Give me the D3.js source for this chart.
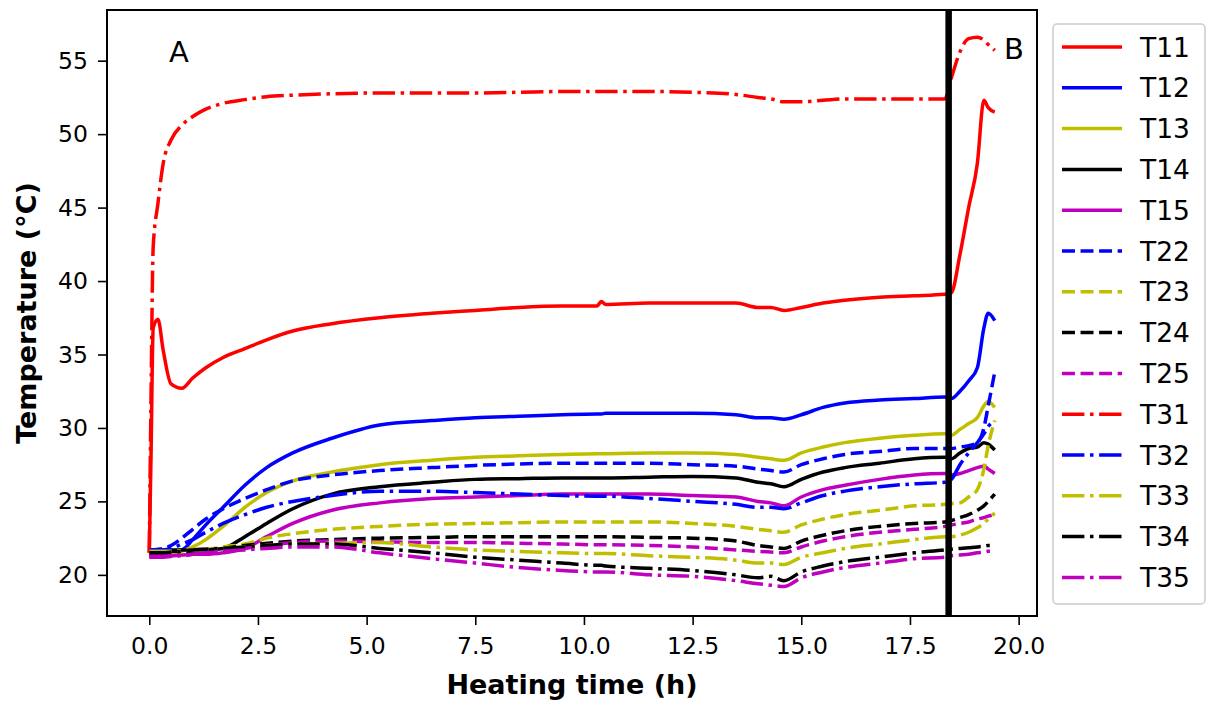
<!DOCTYPE html>
<html>
<head>
<meta charset="utf-8">
<script src="https://cdn.jsdelivr.net/npm/d3@7"></script>
<style>
  html, body { margin: 0; padding: 0; background: #fff; }
  svg { display: block; }
  text { font-family: "DejaVu Sans", sans-serif; fill: #000; }
</style>
</head>
<body>
<svg id="chart" width="1209" height="704"></svg>
<script>
// ---------------- DATA ----------------
const time = [0, 0.04, 0.09, 0.2, 0.32, 0.5, 0.75,
              1.0, 1.3, 1.7, 2.2, 2.7, 3.3, 4.2,
              5.3, 6.5, 7.5, 8.5, 9.5, 10.3, 10.4,
              10.5, 11.5, 12.5, 13.5, 14.0, 14.3, 14.6,
              15.0, 15.5, 16.0, 16.8, 17.6, 18.3, 18.45,
              18.65, 18.85, 19.05, 19.2, 19.3, 19.45];

const seriesNames = ["T11","T12","T13","T14","T15","T22","T23","T24","T25","T31","T32","T33","T34","T35"];

const T11 = [21.5, 28.0, 36.8, 37.4, 35.3, 33.0, 32.7,
             33.4, 34.1, 34.8, 35.4, 36.0, 36.6, 37.1,
             37.5, 37.8, 38.0, 38.2, 38.3, 38.3, 38.6,
             38.4, 38.5, 38.5, 38.5, 38.2, 38.2, 38.0,
             38.2, 38.5, 38.7, 38.9, 39.0, 39.1, 39.2,
             41.8, 45.0, 48.0, 52.3, 51.8, 51.5];
const T12 = [21.6, 21.6, 21.6, 21.6, 21.6, 21.6, 21.7,
             22.4, 23.4, 24.6, 26.1, 27.3, 28.3, 29.3,
             30.2, 30.5, 30.7, 30.8, 30.9, 30.95, 30.95,
             31.0, 31.0, 31.0, 30.9, 30.7, 30.7, 30.6,
             30.9, 31.4, 31.7, 31.9, 32.0, 32.1, 32.0,
             32.5, 33.2, 34.1, 36.8, 37.8, 37.3];
const T13 = [21.5, 21.5, 21.5, 21.5, 21.5, 21.5, 21.6,
             21.9, 22.4, 23.3, 24.6, 25.6, 26.4, 27.0,
             27.5, 27.8, 28.0, 28.1, 28.2, 28.25, 28.25,
             28.25, 28.3, 28.3, 28.2, 28.0, 27.9, 27.8,
             28.3, 28.7, 29.0, 29.3, 29.5, 29.6, 29.5,
             29.9, 30.3, 30.7, 31.5, 31.8, 31.4];
const T14 = [21.7, 21.7, 21.7, 21.7, 21.7, 21.7, 21.7,
             21.7, 21.7, 21.8, 22.6, 23.5, 24.5, 25.5,
             26.0, 26.3, 26.5, 26.55, 26.6, 26.6, 26.6,
             26.6, 26.65, 26.7, 26.6, 26.3, 26.2, 26.0,
             26.5, 27.0, 27.3, 27.6, 27.9, 28.0, 27.9,
             28.3, 28.6, 28.7, 29.0, 28.9, 28.5];
const T15 = [21.3, 21.3, 21.3, 21.3, 21.3, 21.3, 21.35,
             21.4, 21.4, 21.5, 21.8, 22.6, 23.5, 24.4,
             24.9, 25.2, 25.3, 25.4, 25.5, 25.5, 25.5,
             25.5, 25.5, 25.4, 25.3, 25.0, 24.9, 24.7,
             25.3, 25.8, 26.1, 26.5, 26.8, 26.9, 26.8,
             26.9, 27.1, 27.3, 27.4, 27.2, 26.9];
const T22 = [21.7, 21.7, 21.7, 21.75, 21.8, 22.0, 22.5,
             23.1, 23.8, 24.5, 25.2, 25.8, 26.4, 26.8,
             27.1, 27.3, 27.45, 27.55, 27.6, 27.6, 27.6,
             27.6, 27.6, 27.5, 27.4, 27.2, 27.1, 27.0,
             27.5, 27.9, 28.2, 28.4, 28.6, 28.6, 28.6,
             28.7, 28.8, 29.0, 30.0, 31.5, 33.8];
const T23 = [21.5, 21.5, 21.5, 21.5, 21.5, 21.5, 21.5,
             21.6, 21.7, 21.9, 22.1, 22.5, 22.8, 23.1,
             23.3, 23.45, 23.5, 23.55, 23.6, 23.6, 23.6,
             23.6, 23.6, 23.5, 23.3, 23.1, 23.0, 22.9,
             23.4, 23.8, 24.1, 24.4, 24.7, 24.8, 24.85,
             24.9, 25.3, 25.8, 27.2, 28.8, 30.5];
const T24 = [21.6, 21.6, 21.6, 21.6, 21.6, 21.6, 21.6,
             21.6, 21.7, 21.8, 22.0, 22.15, 22.3, 22.4,
             22.5, 22.55, 22.6, 22.6, 22.6, 22.6, 22.6,
             22.6, 22.55, 22.5, 22.3, 22.0, 21.9, 21.8,
             22.3, 22.7, 23.0, 23.3, 23.5, 23.6, 23.7,
             23.9, 24.1, 24.4, 24.7, 25.0, 25.5];
const T25 = [21.3, 21.3, 21.3, 21.3, 21.3, 21.3, 21.35,
             21.4, 21.5, 21.6, 21.8, 22.0, 22.2, 22.3,
             22.25, 22.2, 22.2, 22.15, 22.1, 22.05, 22.05,
             22.05, 22.0, 21.9, 21.7, 21.6, 21.55, 21.5,
             21.9, 22.3, 22.6, 22.9, 23.1, 23.3, 23.4,
             23.5, 23.6, 23.8, 23.9, 24.0, 24.1];
const T31 = [21.5, 32.0, 42.3, 45.3, 48.0, 49.6, 50.6,
             51.2, 51.7, 52.1, 52.35, 52.55, 52.65, 52.75,
             52.8, 52.8, 52.8, 52.85, 52.9, 52.9, 52.9,
             52.9, 52.9, 52.85, 52.7, 52.5, 52.4, 52.2,
             52.2, 52.3, 52.4, 52.4, 52.4, 52.4, 53.8,
             55.6, 56.5, 56.6, 56.4, 56.1, 55.7];
const T32 = [21.7, 21.7, 21.7, 21.7, 21.7, 21.8, 22.1,
             22.4, 22.9, 23.5, 24.1, 24.6, 25.0, 25.4,
             25.7, 25.7, 25.6, 25.5, 25.4, 25.35, 25.35,
             25.35, 25.2, 25.0, 24.8, 24.6, 24.6, 24.5,
             24.9, 25.4, 25.7, 26.0, 26.2, 26.3, 26.5,
             27.5, 28.3, 29.0, 29.6, 30.1, 30.5];
const T33 = [21.6, 21.6, 21.6, 21.6, 21.6, 21.6, 21.65,
             21.7, 21.75, 21.8, 21.9, 22.0, 22.1, 22.15,
             22.2, 21.9, 21.7, 21.6, 21.5, 21.45, 21.45,
             21.45, 21.3, 21.2, 21.0, 20.8, 20.8, 20.7,
             21.2, 21.5, 21.8, 22.1, 22.4, 22.6, 22.6,
             22.7, 22.9, 23.2, 23.5, 23.8, 24.2];
const T34 = [21.5, 21.5, 21.5, 21.5, 21.5, 21.55, 21.6,
             21.7, 21.75, 21.8, 21.9, 22.0, 22.1, 22.1,
             21.8, 21.5, 21.2, 21.0, 20.8, 20.65, 20.65,
             20.6, 20.45, 20.3, 20.0, 19.8, 19.9, 19.6,
             20.2, 20.6, 20.9, 21.2, 21.5, 21.7, 21.75,
             21.8, 21.85, 21.9, 21.95, 22.0, 22.0];
const T35 = [21.2, 21.2, 21.2, 21.2, 21.2, 21.25, 21.3,
             21.4, 21.5, 21.6, 21.7, 21.8, 21.9, 21.9,
             21.5, 21.1, 20.8, 20.5, 20.3, 20.2, 20.2,
             20.2, 20.0, 19.9, 19.6, 19.4, 19.3, 19.2,
             19.8, 20.2, 20.5, 20.8, 21.1, 21.2, 21.3,
             21.35, 21.4, 21.5, 21.55, 21.6, 21.6];

const seriesValues = [T11, T12, T13, T14, T15, T22, T23, T24, T25, T31, T32, T33, T34, T35];
const seriesColors = ["#ff0000","#0000ff","#bfbf00","#000000","#bf00bf",
                      "#0000ff","#bfbf00","#000000","#bf00bf",
                      "#ff0000","#0000ff","#bfbf00","#000000","#bf00bf"];
const seriesStyles = ["solid","solid","solid","solid","solid",
                      "dashed","dashed","dashed","dashed",
                      "dashdot","dashdot","dashdot","dashdot","dashdot"];

const xTicks = [0, 2.5, 5, 7.5, 10, 12.5, 15, 17.5, 20];
const yTicks = [20, 25, 30, 35, 40, 45, 50, 55];
const yLimits = [17.2, 58.45];
const markerTime = 18.39;   // vertical black line separating A and B
const regionLabels = ["A", "B"];

// ---------------- LAYOUT ----------------
const svg = d3.select("#chart");
const plot = {left: 107, right: 1037, top: 10, bottom: 616};
const lw = 3.5;
const dashes = {solid: null,
                dashed: [3.7*lw, 1.6*lw].join(","),
                dashdot: [6.4*lw, 1.6*lw, 1*lw, 1.6*lw].join(",")};

const tMin = d3.min(time), tMax = d3.max(time);
const tPad = (tMax - tMin) * 0.05;
const x = d3.scaleLinear().domain([tMin - tPad, tMax + tPad]).range([plot.left, plot.right]);
const y = d3.scaleLinear().domain(yLimits).range([plot.bottom, plot.top]);

svg.append("clipPath").attr("id", "clip")
  .append("rect").attr("x", plot.left).attr("y", plot.top)
  .attr("width", plot.right - plot.left).attr("height", plot.bottom - plot.top);

const line = d3.line()
  .x(d => x(d[0])).y(d => y(d[1]))
  .curve(d3.curveMonotoneX);

const gLines = svg.append("g").attr("clip-path", "url(#clip)");
seriesValues.forEach((vals, i) => {
  const pts = time.map((t, k) => [t, vals[k]]);
  gLines.append("path")
    .datum(pts)
    .attr("d", line)
    .attr("fill", "none")
    .attr("stroke", seriesColors[i])
    .attr("stroke-width", lw)
    .attr("stroke-linejoin", "round")
    .attr("stroke-dasharray", dashes[seriesStyles[i]]);
});

// vertical separator
svg.append("line")
  .attr("x1", x(markerTime)).attr("x2", x(markerTime))
  .attr("y1", plot.top).attr("y2", plot.bottom)
  .attr("stroke", "#000").attr("stroke-width", 6.5);

// region labels
svg.append("text").attr("x", 169).attr("y", 62).attr("font-size", 29).text(regionLabels[0]);
svg.append("text").attr("x", 1004).attr("y", 59).attr("font-size", 29).text(regionLabels[1]);

// axes
const xAxis = svg.append("g")
  .attr("transform", `translate(0,${plot.bottom})`)
  .call(d3.axisBottom(x).tickValues(xTicks).tickFormat(d3.format(".1f")).tickSize(9).tickPadding(12));
const yAxis = svg.append("g")
  .attr("transform", `translate(${plot.left},0)`)
  .call(d3.axisLeft(y).tickValues(yTicks).tickFormat(d3.format("d")).tickSize(9).tickPadding(10));
[xAxis, yAxis].forEach(g => {
  g.select(".domain").remove();
  g.selectAll(".tick line").attr("stroke", "#000").attr("stroke-width", 1.6);
  g.selectAll(".tick text").attr("font-family", "DejaVu Sans").attr("font-size", 23.5).attr("fill", "#000");
});

// frame
svg.append("rect")
  .attr("x", plot.left).attr("y", plot.top)
  .attr("width", plot.right - plot.left).attr("height", plot.bottom - plot.top)
  .attr("fill", "none").attr("stroke", "#000").attr("stroke-width", 2);

// axis titles
svg.append("text")
  .attr("x", (plot.left + plot.right) / 2).attr("y", 694)
  .attr("text-anchor", "middle").attr("font-size", 27).attr("font-weight", "bold")
  .text("Heating time (h)");
svg.append("text")
  .attr("transform", `translate(36,${(plot.top + plot.bottom) / 2}) rotate(-90)`)
  .attr("text-anchor", "middle").attr("font-size", 27).attr("font-weight", "bold")
  .text("Temperature (°C)");

// legend
const leg = {x: 1053, y: 24, w: 152, h: 580, rowY0: 47, rowDy: 40.8};
svg.append("rect")
  .attr("x", leg.x).attr("y", leg.y).attr("width", leg.w).attr("height", leg.h)
  .attr("rx", 4).attr("fill", "#fff").attr("stroke", "#cccccc").attr("stroke-width", 1.5);
seriesNames.forEach((name, i) => {
  const yy = leg.rowY0 + i * leg.rowDy;
  svg.append("line")
    .attr("x1", 1062).attr("x2", 1122).attr("y1", yy).attr("y2", yy)
    .attr("stroke", seriesColors[i]).attr("stroke-width", lw)
    .attr("stroke-dasharray", dashes[seriesStyles[i]]);
  svg.append("text")
    .attr("x", 1140).attr("y", yy).attr("dy", "0.36em")
    .attr("font-size", 26.5).text(name);
});
</script>
</body>
</html>
